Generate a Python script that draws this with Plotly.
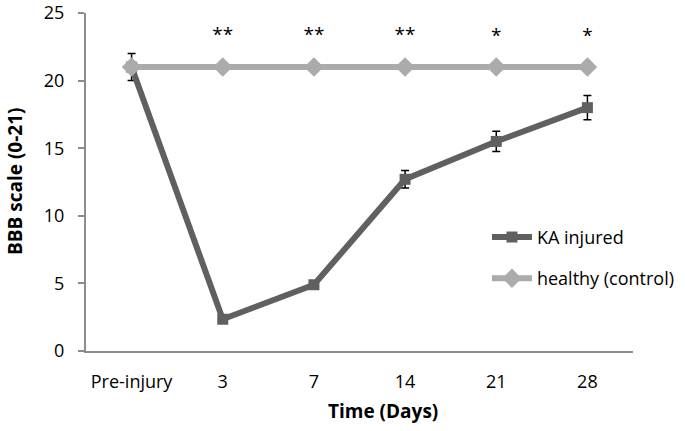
import plotly.graph_objects as go

categories = ["Pre-injury", "3", "7", "14", "21", "28"]
ka_injured = [21.0, 2.35, 4.9, 12.7, 15.5, 18.0]
ka_err = [1.0, 0.3, 0.3, 0.65, 0.75, 0.9]
healthy = [21, 21, 21, 21, 21, 21]
star_cats = ["3", "7", "14", "21", "28"]
star_text = ["**", "**", "**", "*", "*"]
star_y = [23.3, 23.3, 23.3, 23.2, 23.2]

FONT = "Open Sans"

fig = go.Figure()
fig.add_trace(go.Scatter(
    x=categories, y=ka_injured, name="KA injured", mode="lines+markers",
    line=dict(color="#606060", width=6),
    marker=dict(symbol="square", size=11, color="#606060"),
    error_y=dict(type="data", array=ka_err, color="black", thickness=1.5, width=4),
    legendgroup="a",
))
fig.add_trace(go.Scatter(
    x=categories, y=healthy, name="healthy (control)", mode="lines+markers",
    line=dict(color="#ababab", width=6),
    marker=dict(symbol="diamond", size=15, color="#ababab"),
    legendgroup="b",
))
fig.add_trace(go.Scatter(
    x=star_cats, y=star_y, mode="text", text=star_text, showlegend=False,
    textfont=dict(family=FONT, size=19, color="black"), textposition="middle center",
    hoverinfo="skip",
))

fig.update_layout(
    width=685, height=431,
    margin=dict(l=86, r=52, t=13, b=80, autoexpand=False),
    paper_bgcolor="white", plot_bgcolor="white",
    font=dict(family=FONT, size=18, color="black"),
    showlegend=True,
    legend=dict(x=0.733, y=0.276, xanchor="left", yanchor="middle",
                bgcolor="rgba(0,0,0,0)", tracegroupgap=15,
                font=dict(family=FONT, size=18), itemwidth=40),
    xaxis=dict(type="category", range=[-0.5, 5.5], showgrid=False, automargin=False,
               showline=True, linecolor="#8c8c8c", linewidth=2,
               ticks="", ticklabelstandoff=13, tickfont=dict(size=18)),
    yaxis=dict(range=[0, 25], dtick=5, showgrid=False, zeroline=False, automargin=False,
               showline=True, linecolor="#8c8c8c", linewidth=2,
               ticks="outside", ticklen=6, tickcolor="#8c8c8c", tickwidth=2,
               ticklabelstandoff=10, ticklabeloverflow="allow", tickfont=dict(size=18)),
    annotations=[
        dict(text="<b>BBB scale (0-21)</b>", xref="paper", yref="paper", x=0, y=0.5,
             xanchor="center", yanchor="middle", xshift=-71, textangle=-90,
             showarrow=False, font=dict(size=19)),
        dict(text="<b>Time (Days)</b>", xref="paper", yref="paper", x=0.543, y=0,
             xanchor="center", yanchor="middle", yshift=-60,
             showarrow=False, font=dict(size=19)),
    ],
)

fig.write_html("out.html", config={"displayModeBar": False},
               post_script="document.body.style.margin='0';")
